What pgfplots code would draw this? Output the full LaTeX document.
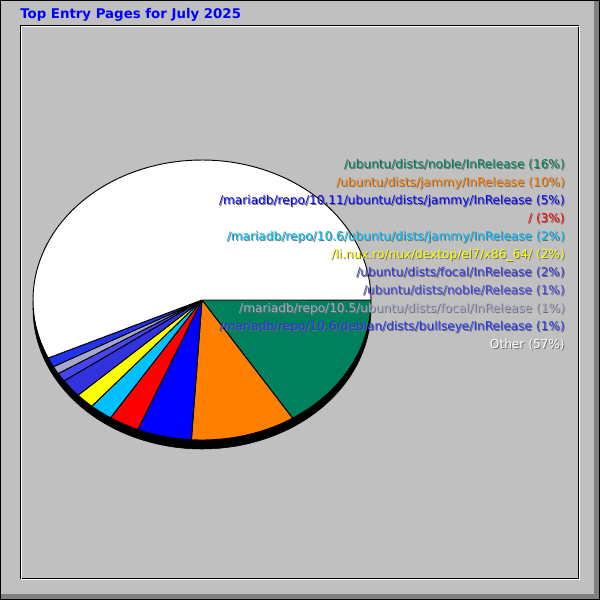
\documentclass[border=0pt]{standalone}
\usepackage{pgfplots}
\pgfplotsset{compat=1.18}
\usepackage{fontspec}
\setmainfont{DejaVu Sans}
\definecolor{bg}{HTML}{C0C0C0}
\definecolor{dk}{HTML}{808080}
\definecolor{shd}{HTML}{6E6E6E}
\definecolor{cA}{HTML}{00805C}
\definecolor{cB}{HTML}{FF8000}
\definecolor{cC}{HTML}{0000FF}
\definecolor{cD}{HTML}{FF0000}
\definecolor{cE}{HTML}{00C0FF}
\definecolor{cF}{HTML}{FFFF00}
\definecolor{cG}{HTML}{3333DD}
\definecolor{cH}{HTML}{4646EA}
\definecolor{cI}{HTML}{A8A8CC}
\definecolor{cJ}{HTML}{2233EE}
\definecolor{cK}{HTML}{FFFFFF}
% slice: start percent, end percent, colour
\newcommand\slice[3]{%
  \pgfmathsetmacro\aS{#1*3.6}\pgfmathsetmacro\aE{#2*3.6}%
  \edef\tmp{\noexpand\addplot[fill=#3, draw=black, line width=0.7pt, line join=round, domain=\aS:\aE, samples=90, variable=\noexpand\t]}%
  \tmp ({202+169*cos(\t)},{300+140*sin(\t)}) -- (202,300) -- cycle;%
}
\newcommand\lab[3]{%
  \node[anchor=base east, inner sep=0pt, font=\fontsize{9.1}{11}\selectfont, text=shd] at (566,#1+1) {#3};
  \node[anchor=base east, inner sep=0pt, font=\fontsize{9.1}{11}\selectfont, text=#2] at (565,#1) {#3};
}
\begin{document}
\begin{tikzpicture}
\begin{axis}[scale only axis, width=450pt, height=450pt,
  xmin=0, xmax=600, ymin=0, ymax=600, y dir=reverse,
  hide axis, clip=false]
% background and frames
\fill[bg] (0,0) rectangle (600,600);
\fill[black] (0,0) rectangle (600,1);
\fill[black] (0,0) rectangle (1,600);
\fill[dk] (594,1) rectangle (600,600);
\fill[dk] (1,594) rectangle (600,600);
\fill[black] (599,0) rectangle (600,600);
\fill[black] (0,599) rectangle (600,600);
\fill[black] (20,25) rectangle (579,26);
\fill[black] (20,25) rectangle (21,579);
\fill[black] (578,25) rectangle (579,579);
\fill[black] (20,578) rectangle (579,579);
\fill[white] (21,26) rectangle (580,27);
\fill[white] (21,26) rectangle (22,580);
\fill[white] (579,26) rectangle (580,580);
\fill[white] (21,579) rectangle (580,580);
% title
\node[anchor=base west, inner sep=0pt, font=\bfseries\fontsize{10}{12}\selectfont, text=blue] at (20,18.5) {Top Entry Pages for July 2025};
% 3D side of the pie
\addplot[fill=black, draw=black, domain=0:360, samples=181, variable=\t] ({202+169*cos(\t)},{309+140*sin(\t)}) -- cycle;
% slices (cumulative percentages)
\slice{0}{16.0}{cA}
\slice{16.0}{26.0}{cB}
\slice{26.0}{31.2}{cC}
\slice{31.2}{34.1}{cD}
\slice{34.1}{36.3}{cE}
\slice{36.3}{38.1}{cF}
\slice{38.1}{40.2}{cG}
\slice{40.2}{41.2}{cH}
\slice{41.2}{42.1}{cI}
\slice{42.1}{43.2}{cJ}
\slice{43.2}{100}{cK}
% legend labels
\lab{168}{cA}{/ubuntu/dists/noble/InRelease (16\%)}
\lab{186}{cB}{/ubuntu/dists/jammy/InRelease (10\%)}
\lab{204}{cC}{/mariadb/repo/10.11/ubuntu/dists/jammy/InRelease (5\%)}
\lab{222}{cD}{/ (3\%)}
\lab{240}{cE}{/mariadb/repo/10.6/ubuntu/dists/jammy/InRelease (2\%)}
\lab{258}{cF}{/li.nux.ro/nux/dextop/el7/x86\_64/ (2\%)}
\lab{276}{cG}{/ubuntu/dists/focal/InRelease (2\%)}
\lab{294}{cH}{/ubuntu/dists/noble/Release (1\%)}
\lab{312}{cI}{/mariadb/repo/10.5/ubuntu/dists/focal/InRelease (1\%)}
\lab{330}{cJ}{/mariadb/repo/10.6/debian/dists/bullseye/InRelease (1\%)}
\lab{348}{cK}{Other (57\%)}
\end{axis}
\end{tikzpicture}
\end{document}
